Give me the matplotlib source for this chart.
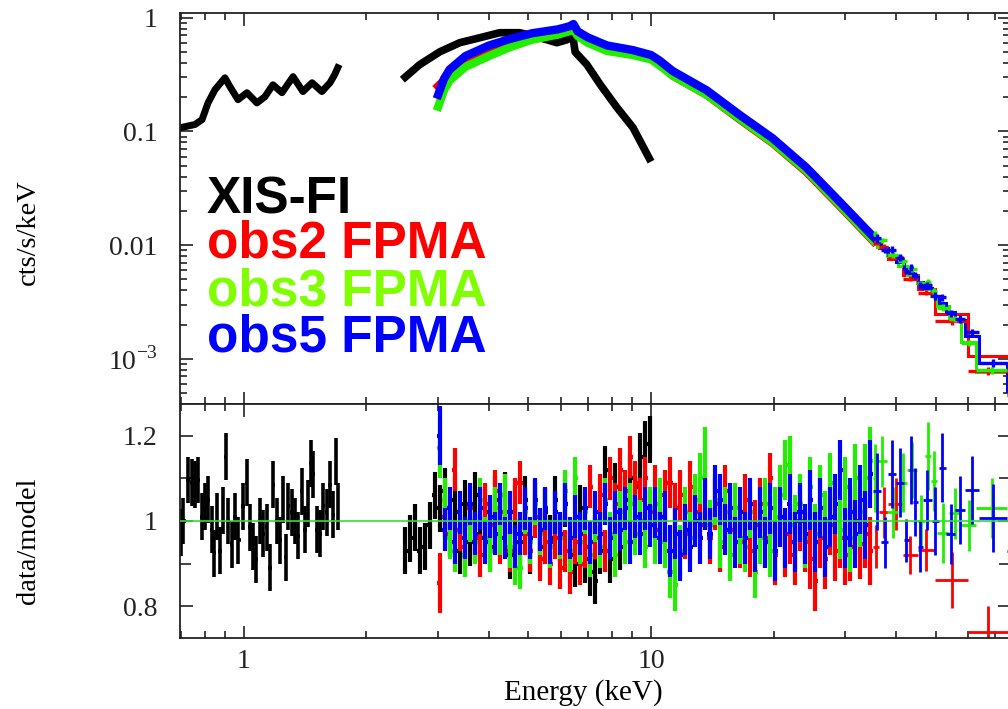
import numpy as np
import matplotlib
matplotlib.use("Agg")
import matplotlib.pyplot as plt
from matplotlib.ticker import FixedLocator, FixedFormatter, NullFormatter, LogLocator

plt.rcParams["font.family"] = ["Liberation Serif", "DejaVu Serif"]
plt.rcParams["mathtext.fontset"] = "custom"
plt.rcParams["mathtext.rm"] = "Liberation Serif"

RED = "#ff0000"
GREEN = "#22ee00"
BLUE = "#0000ff"

# ---- spectra (cts/s/keV) ----
xis1_e = [0.70, 0.758, 0.789, 0.816, 0.849, 0.898, 0.924, 0.967, 1.017, 1.076,
          1.126, 1.178, 1.24, 1.32, 1.396, 1.47, 1.554, 1.627, 1.67, 1.70]
xis1_f = [0.108, 0.115, 0.127, 0.178, 0.233, 0.296, 0.247, 0.19, 0.219, 0.178,
          0.202, 0.257, 0.219, 0.303, 0.224, 0.268, 0.224, 0.268, 0.315, 0.363]

xis2_e = [2.49, 2.70, 3.03, 3.39, 3.80, 4.25, 4.76, 5.33, 5.87, 6.22, 6.32, 6.40,
          6.51, 6.96, 7.51, 8.25, 9.03, 9.9]
xis2_f = [0.30, 0.386, 0.502, 0.603, 0.667, 0.738, 0.738, 0.667, 0.603, 0.64, 0.70,
          0.76, 0.50, 0.386, 0.257, 0.162, 0.108, 0.058]

spec_e = [3.0, 3.1, 3.2, 3.5, 4.0, 4.5, 5.1, 5.9, 6.3, 6.45, 6.6, 7.0, 7.8, 9.0,
          10.0, 10.5, 11.3, 13.7, 16.5, 19.9, 24.1, 29.1, 35.2]
obs2_f = [0.25, 0.28, 0.33, 0.43, 0.53, 0.61, 0.70, 0.76, 0.80, 0.84, 0.72, 0.63,
          0.53, 0.48, 0.44, 0.39, 0.31, 0.21, 0.128, 0.079, 0.044, 0.022, 0.0108]
obs3_f = [0.165, 0.23, 0.28, 0.37, 0.46, 0.55, 0.64, 0.71, 0.76, 0.79, 0.69, 0.60,
          0.51, 0.47, 0.43, 0.38, 0.31, 0.21, 0.13, 0.08, 0.045, 0.0225, 0.011]
obs5_f = [0.21, 0.29, 0.35, 0.46, 0.57, 0.65, 0.73, 0.79, 0.84, 0.88, 0.76, 0.67,
          0.57, 0.52, 0.47, 0.42, 0.34, 0.23, 0.14, 0.087, 0.048, 0.024, 0.0118]

# ---- XIS ratios ----
xis1_re = [0.700, 0.709, 0.730, 0.744, 0.758, 0.772, 0.787, 0.802, 0.817, 0.833,
           0.846, 0.857, 0.873, 0.890, 0.901, 0.915, 0.933, 0.950, 0.968, 0.996,
           1.015, 1.034, 1.054, 1.068, 1.095, 1.116, 1.137, 1.159, 1.181, 1.203,
           1.226, 1.249, 1.266, 1.285, 1.309, 1.335, 1.360, 1.386, 1.412, 1.439,
           1.458, 1.480, 1.508, 1.537, 1.566, 1.596, 1.627, 1.658, 1.680, 1.699]
xis1_r = [0.972, 1.0, 1.096, 1.09, 1.085, 1.096, 1.01, 1.035, 1.05, 0.98,
          0.925, 1.01, 0.93, 1.025, 1.15, 1.0, 0.945, 1.01, 0.955, 1.035,
          1.09, 0.985, 0.94, 0.91, 1.0, 0.97, 0.985, 0.89, 1.085, 1.0,
          0.955, 1.05, 0.915, 1.035, 1.02, 1.0, 0.965, 1.07, 0.98, 1.04,
          1.135, 1.11, 0.98, 0.97, 1.035, 1.02, 1.085, 1.015, 1.14, 1.035]

xis2_re = [2.487, 2.558, 2.632, 2.706, 2.785, 2.864, 2.946, 3.030, 3.118, 3.207,
           3.299, 3.394, 3.491, 3.592, 3.695, 3.801, 3.910, 4.022, 4.138, 4.256,
           4.378, 4.504, 4.633, 4.766, 4.903, 5.044, 5.188, 5.337, 5.490, 5.648,
           5.810, 5.977, 6.148, 6.324, 6.506, 6.693, 6.885, 7.082, 7.286, 7.495,
           7.710, 7.931, 8.158, 8.392, 8.634, 8.881, 9.136, 9.398, 9.668, 9.943]
xis2_r = [0.93, 0.96, 0.985, 0.93, 0.94, 0.99, 1.06, 1.03, 1.07, 0.97,
          1.05, 0.93, 1.04, 0.95, 1.06, 0.96, 1.02, 0.94, 1.05, 0.97,
          1.06, 0.92, 1.03, 0.95, 1.05, 0.93, 1.04, 0.94, 1.02, 0.96,
          1.05, 0.96, 1.04, 0.92, 0.90, 1.03, 0.91, 0.88, 0.86, 0.93,
          1.12, 0.91, 1.08, 0.94, 1.05, 1.10, 1.08, 1.15, 1.18, 1.19]
xis_err = 0.055

# ---- FPMA ratios on the fine channel grid (3-35 keV) ----
fpma_e = [3.030, 3.118, 3.207, 3.299, 3.394, 3.491, 3.592, 3.695, 3.801, 3.910,
          4.022, 4.138, 4.256, 4.378, 4.504, 4.633, 4.766, 4.903, 5.044, 5.188,
          5.337, 5.490, 5.648, 5.810, 5.977, 6.148, 6.324, 6.506, 6.693, 6.885,
          7.082, 7.286, 7.495, 7.710, 7.931, 8.158, 8.392, 8.634, 8.881, 9.136,
          9.398, 9.668, 9.943, 10.23, 10.52, 10.82, 11.13, 11.46, 11.79, 12.12,
          12.47, 12.83, 13.20, 13.57, 13.96, 14.37, 14.78, 15.20, 15.64, 16.09,
          16.55, 17.02, 17.51, 18.01, 18.53, 19.06, 19.61, 20.17, 20.75, 21.34,
          21.95, 22.58, 23.23, 23.90, 24.58, 25.29, 26.02, 26.76, 27.53, 28.32,
          29.13, 29.97, 30.83, 31.71, 32.62, 33.56, 34.52]
fpma_err = [0.07, 0.05, 0.05, 0.05, 0.05, 0.05, 0.05, 0.05, 0.05, 0.05,
            0.05, 0.05, 0.05, 0.05, 0.05, 0.05, 0.05, 0.05, 0.05, 0.05,
            0.05, 0.05, 0.05, 0.05, 0.05, 0.05, 0.05, 0.05, 0.05, 0.05,
            0.05, 0.05, 0.05, 0.05, 0.05, 0.05, 0.05, 0.05, 0.05, 0.05,
            0.05, 0.05, 0.05, 0.06, 0.06, 0.06, 0.06, 0.06, 0.06, 0.06,
            0.06, 0.06, 0.06, 0.06, 0.06, 0.06, 0.06, 0.06, 0.06, 0.06,
            0.06, 0.06, 0.06, 0.06, 0.06, 0.06, 0.06, 0.07, 0.07, 0.07,
            0.07, 0.07, 0.07, 0.07, 0.07, 0.07, 0.07, 0.07, 0.07, 0.07,
            0.07, 0.07, 0.08, 0.08, 0.08, 0.08, 0.08]
obs2_r = [0.855, 1.01, 0.97, 1.12, 0.98, 0.94, 1.03, 0.96, 0.92, 1.04,
          0.99, 1.07, 0.95, 1.02, 0.93, 1.05, 1.09, 0.97, 0.93, 1.01,
          0.91, 0.95, 0.90, 0.96, 0.89, 0.93, 0.88, 0.95, 0.90, 0.94,
          1.08, 0.96, 1.06, 0.93, 1.10, 1.04, 1.12, 1.07, 1.15, 1.09,
          1.05, 1.10, 1.02, 1.07, 0.98, 1.06, 1.09, 1.03, 1.06, 0.97,
          1.08, 1.02, 0.99, 1.05, 0.96, 1.04, 0.94, 1.07, 0.98, 1.03,
          0.95, 1.05, 0.93, 0.99, 1.04, 0.96, 1.10, 0.92, 1.01, 0.94,
          0.97, 0.92, 1.00, 0.95, 0.91, 0.86, 0.96, 0.91, 0.99, 0.93,
          0.96, 0.92, 0.94, 1.00, 0.945, 0.97, 0.93]
obs3_r = [1.17, 1.05, 0.96, 0.93, 1.02, 0.92, 1.00, 0.95, 1.05, 0.96,
          0.93, 1.03, 0.97, 1.06, 0.94, 0.90, 0.89, 1.02, 0.95, 1.04,
          0.97, 1.03, 0.94, 1.02, 0.96, 1.07, 0.93, 1.10, 0.95, 1.02,
          0.92, 1.00, 0.94, 1.05, 0.97, 0.92, 1.02, 0.95, 1.04, 0.97,
          1.00, 0.94, 1.03, 0.96, 1.04, 0.95, 0.88, 0.85, 0.93, 1.02,
          0.96, 1.05, 1.10, 1.16, 0.99, 1.05, 0.95, 1.02, 0.92, 1.03,
          0.96, 0.94, 1.02, 0.88, 0.96, 1.04, 0.93, 1.01, 1.06, 1.12,
          1.13, 0.99, 1.04, 0.96, 1.08, 0.97, 1.06, 1.00, 1.09, 1.04,
          0.98, 1.08, 0.96, 1.10, 1.02, 1.10, 1.14]
obs5_r = [1.20, 0.98, 1.03, 0.95, 1.02, 0.96, 1.04, 0.97, 1.03, 0.95,
          1.01, 0.97, 1.04, 0.96, 1.02, 0.94, 0.97, 1.03, 0.96, 1.05,
          0.98, 1.03, 0.95, 1.02, 0.97, 1.04, 0.96, 1.01, 0.97, 1.03,
          0.95, 1.02, 0.97, 1.04, 0.96, 1.02, 0.98, 1.03, 0.95, 1.01,
          0.97, 1.03, 0.99, 1.02, 0.96, 1.01, 0.93, 0.97, 0.92, 0.98,
          0.94, 1.00, 0.96, 1.04, 0.97, 1.07, 1.05, 0.98, 1.03, 0.95,
          1.02, 0.96, 1.04, 0.94, 1.02, 0.95, 1.03, 0.93, 1.01, 0.96,
          1.04, 0.95, 1.02, 0.97, 1.05, 0.95, 1.03, 0.94, 1.01, 1.04,
          1.12, 0.96, 1.02, 0.97, 1.05, 0.99, 1.11]

# ---- FPMA wide bins above 35 keV: edges, data/model, error, model ----
obs2_edges = [35.2, 36.3, 38.3, 41.6, 45.2, 49.9, 60.1, 75.3]
obs2_wr = [0.94, 1.02, 1.04, 0.92, 0.932, 0.862, 0.74]
obs2_we = [0.05, 0.06, 0.06, 0.045, 0.05, 0.065, 0.06]
obs2_wm = [0.0112, 0.0094, 0.0075, 0.0055, 0.0041, 0.0025, 0.00105]

obs3_edges = [35.2, 36.0, 38.0, 40.5, 42.5, 45.0, 47.0, 48.8, 50.5, 54.0, 57.8, 63.0, 75.0]
obs3_wr = [1.10, 1.14, 1.02, 1.09, 1.12, 1.0, 1.153, 1.094, 0.972, 1.018, 0.99, 1.03]
obs3_we = [0.08, 0.06, 0.06, 0.07, 0.065, 0.06, 0.08, 0.07, 0.07, 0.06, 0.06, 0.07]
obs3_wm = [0.0113, 0.0097, 0.0080, 0.0066, 0.0055, 0.0046, 0.0041, 0.0036, 0.0029,
           0.0022, 0.0014, 0.00077]

obs5_edges = [35.2, 36.8, 38.3, 40.0, 41.8, 43.0, 44.0, 45.3, 46.5, 49.0, 51.0, 53.0,
              55.9, 59.0, 64.0, 74.8, 82.0]
obs5_wr = [1.07, 0.95, 1.11, 1.09, 0.955, 1.12, 1.045, 0.94, 1.05, 1.0, 1.125, 0.97,
           1.026, 1.073, 1.007, 0.93]
obs5_we = [0.09, 0.06, 0.08, 0.08, 0.05, 0.08, 0.08, 0.06, 0.07, 0.08, 0.08, 0.07,
           0.08, 0.08, 0.08, 0.16]
obs5_wm = [0.0107, 0.0095, 0.0082, 0.0071, 0.0062, 0.0057, 0.0052, 0.0047, 0.0042,
           0.0036, 0.0031, 0.0026, 0.0022, 0.0016, 0.00092, 0.00052]

labels = ["XIS-FI", "obs2 FPMA", "obs3 FPMA", "obs5 FPMA"]
label_colors = ["black", RED, "#7fff00", BLUE]


def bin_halfwidths(e):
    e = np.asarray(e, dtype=float)
    mid = np.sqrt(e[:-1] * e[1:])
    lo = np.concatenate([[e[0] ** 2 / mid[0]], mid])
    hi = np.concatenate([mid, [e[-1] ** 2 / mid[-1]]])
    return np.vstack([e - lo, hi - e])


def wide_bins(edges):
    edges = np.asarray(edges, dtype=float)
    cen = np.sqrt(edges[:-1] * edges[1:])
    return cen, np.vstack([cen - edges[:-1], edges[1:] - cen])


W, H = 1008, 709
fig = plt.figure(figsize=(W / 100, H / 100), dpi=100)
ax_top = fig.add_axes([180 / W, 1 - 404 / H, 830 / W, 391 / H])
ax_bot = fig.add_axes([180 / W, 1 - 638 / H, 830 / W, 234 / H], sharex=ax_top)

# top panel: spectra
ax_top.plot(xis1_e, xis1_f, color="black", lw=5, solid_joinstyle="round")
ax_top.plot(xis2_e, xis2_f, color="black", lw=5.5, solid_joinstyle="round")
for f, col in [(obs2_f, RED), (obs3_f, GREEN), (obs5_f, BLUE)]:
    ax_top.plot(spec_e, f, color=col, lw=6, solid_joinstyle="round")

for edges, wr, we, wm, col in [(obs2_edges, obs2_wr, obs2_we, obs2_wm, RED),
                               (obs3_edges, obs3_wr, obs3_we, obs3_wm, GREEN),
                               (obs5_edges, obs5_wr, obs5_we, obs5_wm, BLUE)]:
    cen, xe = wide_bins(edges)
    model = np.array(wm)
    ax_top.stairs(model, edges, baseline=None, color=col, lw=2.2)
    ax_top.errorbar(cen, model * np.array(wr), yerr=model * np.array(we), xerr=xe,
                    fmt="none", ecolor=col, elinewidth=2.4, capsize=0)

# bottom panel: data/model
ax_bot.errorbar(xis1_re, xis1_r, yerr=xis_err, xerr=bin_halfwidths(xis1_re),
                fmt="none", ecolor="black", elinewidth=2.6, capsize=0)
ax_bot.errorbar(xis2_re, xis2_r, yerr=xis_err, xerr=bin_halfwidths(xis2_re),
                fmt="none", ecolor="black", elinewidth=3.0, capsize=0)
fpma_xe = bin_halfwidths(fpma_e)
for r, edges, wr, we, col in [(obs2_r, obs2_edges, obs2_wr, obs2_we, RED),
                              (obs3_r, obs3_edges, obs3_wr, obs3_we, GREEN),
                              (obs5_r, obs5_edges, obs5_wr, obs5_we, BLUE)]:
    ax_bot.errorbar(fpma_e, r, yerr=fpma_err, xerr=fpma_xe,
                    fmt="none", ecolor=col, elinewidth=3.0, capsize=0)
    cen, xe = wide_bins(edges)
    ax_bot.errorbar(cen, wr, yerr=we, xerr=xe,
                    fmt="none", ecolor=col, elinewidth=2.0, capsize=0)
ax_bot.axhline(1.0, color="#33dd33", lw=1.2, zorder=10)

# axes and ticks
ax_top.set_xscale("log")
ax_top.set_xlim(0.6964, 76.2)
ax_top.set_yscale("log")
ax_top.set_ylim(4.0e-4, 1.1)
ax_bot.set_ylim(0.726, 1.274)

ax_top.xaxis.set_major_locator(FixedLocator([1, 10]))
ax_top.xaxis.set_minor_locator(FixedLocator([0.7, 0.8, 0.9, 2, 3, 4, 5, 6, 7, 8, 9,
                                             20, 30, 40, 50, 60, 70]))
ax_top.xaxis.set_major_formatter(FixedFormatter(["1", "10"]))
ax_top.xaxis.set_minor_formatter(NullFormatter())

ax_top.yaxis.set_major_locator(FixedLocator([1e-3, 1e-2, 0.1, 1]))
ax_top.yaxis.set_major_formatter(FixedFormatter([r"10$^{-3}$", "0.01", "0.1", "1"]))
ax_top.yaxis.set_minor_locator(LogLocator(base=10, subs=range(2, 10)))
ax_top.yaxis.set_minor_formatter(NullFormatter())

ax_bot.yaxis.set_major_locator(FixedLocator([0.8, 1.0, 1.2]))
ax_bot.yaxis.set_major_formatter(FixedFormatter(["0.8", "1", "1.2"]))
ax_bot.yaxis.set_minor_locator(FixedLocator([0.9, 1.1]))

for ax in (ax_top, ax_bot):
    ax.tick_params(which="both", direction="in", top=True, right=True,
                   width=1.2, labelsize=20, colors="#222222")
    ax.tick_params(which="major", length=9)
    ax.tick_params(which="minor", length=5)
    ax.tick_params(axis="y", pad=16)
    ax.tick_params(axis="x", pad=8)
    for sp in ax.spines.values():
        sp.set_linewidth(1.3)
        sp.set_color("#222222")
ax_bot.tick_params(axis="y", which="minor", length=8)
ax_top.tick_params(labelbottom=False)

fig.text(28 / W, 1 - 232 / H, "cts/s/keV", rotation=90, ha="center", va="center", fontsize=20.5)
fig.text(28 / W, 1 - 541 / H, "data/model", rotation=90, ha="center", va="center", fontsize=20.5)
fig.text(583 / W, 1 - 693 / H, "Energy (keV)", ha="center", va="center", fontsize=21)

for i, (txt, col) in enumerate(zip(labels, label_colors)):
    base = [213, 258, 305, 352][i]
    fig.text(207 / W, 1 - base / H, txt, color=col, fontsize=37, fontweight="bold",
             family=["Liberation Sans", "DejaVu Sans"], ha="left", va="baseline")

fig.savefig("out.png", dpi=100)
